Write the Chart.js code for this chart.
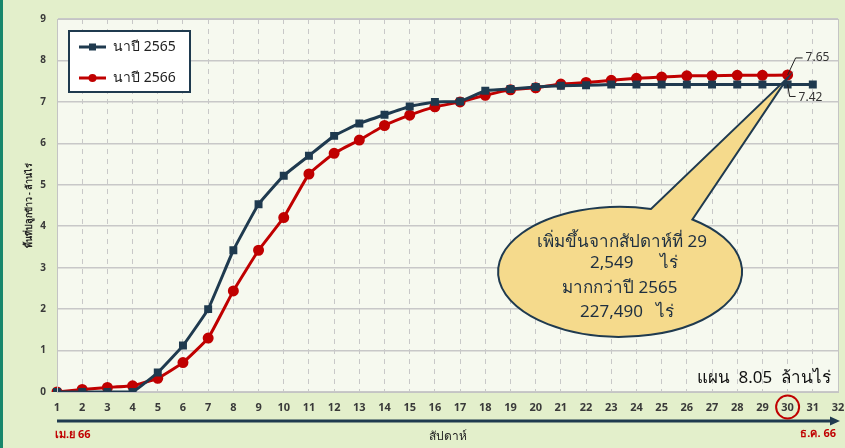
<!DOCTYPE html>
<html>
<head>
<meta charset="utf-8">
<script src="https://cdn.jsdelivr.net/npm/chart.js@4"></script>
<style>
  html, body { margin: 0; padding: 0; background: #e3efcb; }
  #wrap { width: 845px; height: 448px; }
</style>
</head>
<body>
<div id="wrap"><canvas id="riceChart" width="845" height="448"></canvas></div>
<script>
// weeks (x axis) and cumulative planted area, million rai
const weeks = ['1','2','3','4','5','6','7','8','9','10','11','12','13','14','15','16',
  '17','18','19','20','21','22','23','24','25','26','27','28','29','30','31','32'];
const area2565 = [0, 0, 0, 0, 0.47, 1.12, 2.0, 3.42, 4.53, 5.22, 5.7, 6.18, 6.48, 6.69, 6.89, 7.0,
  7.01, 7.27, 7.31, 7.36, 7.39, 7.4, 7.42, 7.42, 7.42, 7.42, 7.42, 7.42, 7.42, 7.42, 7.42];
const area2566 = [0, 0.06, 0.11, 0.15, 0.33, 0.71, 1.3, 2.44, 3.42, 4.21, 5.26, 5.76, 6.08, 6.43, 6.68, 6.88,
  7.0, 7.16, 7.29, 7.34, 7.43, 7.47, 7.52, 7.57, 7.6, 7.63, 7.63, 7.64, 7.64, 7.65];
const seriesNames = ['นาปี 2565', 'นาปี 2566'];
const calloutLines = ['เพิ่มขึ้นจากสัปดาห์ที่ 29', '2,549      ไร่', 'มากกว่าปี 2565', '227,490   ไร่'];
const planText = 'แผน  8.05  ล้านไร่';

const NAVY = '#1f3a4f';
const RED = '#c00000';
const FONT = '"Noto Sans", "DejaVu Sans", sans-serif';

const decorPlugin = {
  id: 'decor',
  beforeDraw(chart) {
    const { ctx, chartArea: a } = chart;
    ctx.save();
    ctx.fillStyle = '#e3efcb';
    ctx.fillRect(0, 0, chart.width, chart.height);
    ctx.fillStyle = '#f6f9ef';
    ctx.fillRect(a.left, a.top, a.right - a.left, a.bottom - a.top);
    ctx.fillStyle = '#17876b';
    ctx.fillRect(0, 0, 3, chart.height);
    ctx.restore();
  },
  afterDatasetsDraw(chart) {
    const { ctx, chartArea: a, scales: { x, y } } = chart;
    ctx.save();
    // plot border top/right
    ctx.strokeStyle = '#c4c4c4';
    ctx.lineWidth = 1;
    ctx.strokeRect(a.left + 0.5, a.top + 0.5, a.right - a.left, a.bottom - a.top);

    // value labels at week 30
    const px = x.getPixelForValue(29);
    const pr = y.getPixelForValue(area2566[29]);
    const pn = y.getPixelForValue(area2565[29]);
    ctx.strokeStyle = '#222';
    ctx.lineWidth = 1;
    ctx.beginPath();
    ctx.moveTo(px, pr); ctx.lineTo(px + 8, pr - 17); ctx.lineTo(px + 15, pr - 17);
    ctx.moveTo(px, pn); ctx.lineTo(px + 2, pn + 12); ctx.lineTo(px + 8, pn + 12);
    ctx.stroke();
    ctx.fillStyle = '#333';
    ctx.font = '12px ' + FONT;
    ctx.textBaseline = 'middle';
    ctx.textAlign = 'left';
    ctx.fillText(area2566[29].toFixed(2), px + 18, pr - 17);
    ctx.fillText(area2565[29].toFixed(2), px + 11, pn + 13);

    // speech bubble
    const cx = x.getPixelForValue(22.35), cy = y.getPixelForValue(2.9);
    const rx = 122, ry = 65;
    const tipX = px, tipY = y.getPixelForValue(7.58);
    const a1 = Math.atan2(-55 / ry, 76 / rx);
    const a2 = Math.atan2(-65 / ry, 32 / rx) + 2 * Math.PI;
    ctx.beginPath();
    ctx.ellipse(cx, cy, rx, ry, 0, a1, a2, false);
    ctx.lineTo(tipX, tipY);
    ctx.closePath();
    ctx.fillStyle = '#f5da8c';
    ctx.fill();
    ctx.strokeStyle = NAVY;
    ctx.lineWidth = 2;
    ctx.stroke();
    ctx.fillStyle = '#1e2f40';
    ctx.font = '17px ' + FONT;
    ctx.textAlign = 'left';
    const lx = [cx - 83, cx - 30, cx - 58, cx - 40];
    const ly = [-30, -9, 16, 40];
    calloutLines.forEach((t, i) => ctx.fillText(t, lx[i], cy + ly[i]));

    // plan text
    ctx.fillStyle = '#111';
    ctx.font = '17px ' + FONT;
    ctx.textAlign = 'right';
    ctx.fillText(planText, a.right - 7, a.bottom - 14);

    // legend
    const bx = 69, by = 31, bw = 121, bh = 61;
    ctx.fillStyle = '#fff';
    ctx.fillRect(bx, by, bw, bh);
    ctx.strokeStyle = NAVY;
    ctx.lineWidth = 2;
    ctx.strokeRect(bx, by, bw, bh);
    chart.data.datasets.forEach((ds, i) => {
      const yy = by + 16 + i * 31;
      ctx.strokeStyle = ds.borderColor;
      ctx.lineWidth = 3;
      ctx.beginPath(); ctx.moveTo(bx + 10, yy); ctx.lineTo(bx + 37, yy); ctx.stroke();
      ctx.fillStyle = ds.borderColor;
      if (ds.pointStyle === 'rect') ctx.fillRect(bx + 20, yy - 3.5, 7, 7);
      else { ctx.beginPath(); ctx.arc(bx + 23.5, yy, 4, 0, Math.PI * 2); ctx.fill(); }
      ctx.fillStyle = '#222';
      ctx.font = '14px ' + FONT;
      ctx.textAlign = 'left';
      ctx.fillText(ds.label, bx + 44, yy);
    });

    // bottom arrow and month labels
    const ay = a.bottom + 29;
    ctx.strokeStyle = NAVY;
    ctx.lineWidth = 3;
    ctx.beginPath(); ctx.moveTo(a.left, ay); ctx.lineTo(a.right - 6, ay); ctx.stroke();
    ctx.fillStyle = NAVY;
    ctx.beginPath(); ctx.moveTo(a.right + 2, ay); ctx.lineTo(a.right - 8, ay - 4.5); ctx.lineTo(a.right - 8, ay + 4.5); ctx.closePath(); ctx.fill();
    ctx.fillStyle = RED;
    ctx.font = 'bold 11px ' + FONT;
    ctx.textAlign = 'left';
    ctx.fillText('เม.ย 66', a.left - 2, ay + 14);
    ctx.textAlign = 'right';
    ctx.fillText('ธ.ค. 66', a.right - 2, ay + 13);
    // circle around week 30
    ctx.strokeStyle = RED;
    ctx.lineWidth = 2;
    ctx.beginPath(); ctx.arc(px, a.bottom + 15, 11.5, 0, Math.PI * 2); ctx.stroke();
    ctx.restore();
  }
};

new Chart(document.getElementById('riceChart'), {
  type: 'line',
  data: {
    labels: weeks,
    datasets: [{
      label: seriesNames[0],
      data: area2565,
      borderColor: NAVY,
      backgroundColor: NAVY,
      borderWidth: 3,
      pointStyle: 'rect',
      pointRadius: 3.5,
      tension: 0.1,
      fill: false
    }, {
      label: seriesNames[1],
      data: area2566,
      borderColor: RED,
      backgroundColor: RED,
      borderWidth: 3,
      pointStyle: 'circle',
      pointRadius: 4,
      tension: 0.1,
      fill: false
    }]
  },
  options: {
    responsive: false,
    animation: false,
    layout: { padding: { top: 19, right: 6, left: 0, bottom: 0 } },
    scales: {
      x: {
        offset: false,
        grid: { color: '#c8c8c8', lineWidth: 1, drawTicks: false },
        border: { color: '#c4c4c4', dash: [5, 5] },
        ticks: { color: '#3a3a3a', font: { family: FONT, size: 11, weight: 'bold' }, padding: 9, maxRotation: 0, autoSkip: false },
        title: { display: true, text: 'สัปดาห์', color: '#222', font: { family: FONT, size: 12 }, padding: { top: 0, bottom: 4 } },
        afterFit(scale) {
          scale.height = 56;
          scale.paddingLeft = 0;
          scale.paddingRight = 0;
        }
      },
      y: {
        min: 0, max: 9,
        grid: { color: '#c8c8c8', lineWidth: 1.5, drawTicks: false },
        border: { color: '#c4c4c4' },
        ticks: { stepSize: 1, color: '#3a3a3a', font: { family: FONT, size: 10, weight: 'bold' }, padding: 11 },
        title: { display: true, text: 'พื้นที่ปลูกข้าว - ล้านไร่', color: '#222', font: { family: FONT, size: 9, weight: 'bold' }, padding: { top: 24, bottom: 0 } },
        afterFit(scale) { scale.width = 57; }
      }
    },
    plugins: {
      legend: { display: false },
      tooltip: { enabled: false }
    }
  },
  plugins: [decorPlugin]
});
</script>
</body>
</html>
